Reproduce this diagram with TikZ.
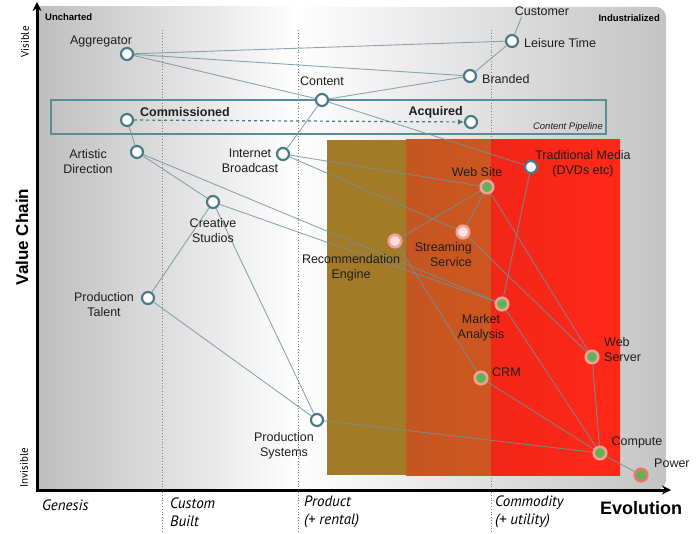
\documentclass[tikz,border=0pt]{standalone}
\usepackage{fontspec}
\setmainfont{Liberation Sans}
\newfontfamily\stagefont{PT Sans}
\usetikzlibrary{arrows.meta}
\usetikzlibrary{positioning}

\definecolor{linkcol}{RGB}{112,146,156}
\definecolor{ringcol}{RGB}{74,122,136}
\definecolor{boxcol}{RGB}{92,138,150}
\definecolor{greenfill}{RGB}{98,178,84}
\definecolor{pinkring}{RGB}{240,160,150}
\definecolor{pinkfill}{RGB}{255,222,222}
\definecolor{powerring}{RGB}{236,116,110}
\definecolor{bandA}{RGB}{162,122,40}
\definecolor{bandB}{RGB}{204,90,34}
\definecolor{bandC}{RGB}{255,40,24}
\definecolor{bgleft}{RGB}{190,190,190}
\definecolor{bgright}{RGB}{196,196,196}
\definecolor{inkcol}{RGB}{30,30,30}

\pgfdeclarelayer{back}
\pgfdeclarelayer{links}
\pgfsetlayers{back,links,main}

\tikzset{
  comp/.style={circle, draw=ringcol, line width=2.2pt, fill=white, minimum size=12pt, inner sep=0pt},
  done/.style={comp, draw=pinkring, fill=greenfill, line width=2.6pt, minimum size=12.5pt},
  soft/.style={comp, draw=pinkring, fill=pinkfill, line width=2.6pt, minimum size=12.5pt},
  txt/.style={font=\fontsize{12.5}{15}\selectfont, text=inkcol, align=center, inner sep=1pt},
  link/.style={draw=linkcol, line width=0.9pt, draw opacity=0.8},
  axis/.style={line width=3pt, -{Stealth[length=9pt,width=9pt]}},
  divider/.style={draw=gray, dotted, line width=0.8pt},
  stage/.style={font=\stagefont\itshape\fontsize{15}{18}\selectfont, align=left, anchor=west, inner sep=1pt},
}

\begin{document}
\begin{tikzpicture}[x=1pt,y=-1pt]
\useasboundingbox (0,0) rectangle (700,534);

% components
\node[comp] (agg) at (127,54) {};
\node[comp] (leis) at (512,41) {};
\node[comp] (brand) at (470,76) {};
\node[comp] (cont) at (322,100) {};
\node[comp] (comm) at (127,120) {};
\node[comp] (acq) at (471,122) {};
\node[comp] (art) at (137,152) {};
\node[comp] (bcast) at (283,154) {};
\node[comp] (trad) at (531,167) {};
\node[done] (web) at (487,187) {};
\node[comp] (studio) at (213,202) {};
\node[soft] (recom) at (395,241) {};
\node[soft] (stream) at (463,232) {};
\node[comp] (talent) at (148,298) {};
\node[done] (market) at (502,304) {};
\node[done] (wserv) at (592,357) {};
\node[done] (crm) at (481,378) {};
\node[comp] (psys) at (317,420) {};
\node[done] (compute) at (600,453) {};
\node[done, draw=powerring] (power) at (641,475) {};

% labels
\node[txt] (cust) at (542,11) {Customer};
\node[txt] (agg-l) at (101,42) {Aggregator};
\node[txt, anchor=west] (leis-l) at (523,43) {Leisure Time};
\node[txt, anchor=west] (brand-l) at (481,79) {Branded};
\node[txt] (cont-l) at (322,81) {Content};
\node[txt, anchor=west, font=\bfseries\fontsize{12.5}{15}\selectfont] (comm-l) at (139,112) {Commissioned};
\node[txt, anchor=east, font=\bfseries\fontsize{12.5}{15}\selectfont] (acq-l) at (464,112) {Acquired};
\node[txt, anchor=east, font=\itshape\fontsize{9.5}{11}\selectfont] (pipe-l) at (604,127) {Content Pipeline};
\node[txt] (art-l) at (88,162) {Artistic\\Direction};
\node[txt] (bcast-l) at (250,161) {Internet\\Broadcast};
\node[txt] (trad-l) at (583,164) {Traditional Media\\(DVDs etc)};
\node[txt] (web-l) at (477,172) {Web Site};
\node[txt] (studio-l) at (213,231) {Creative\\Studios};
\node[txt] (recom-l) at (351,268) {Recommendation\\Engine};
\node[txt, anchor=east, align=right] (stream-l) at (473,255) {Streaming\\Service};
\node[txt] (talent-l) at (104,305) {Production\\Talent};
\node[txt] (market-l) at (481,328) {Market\\Analysis};
\node[txt, anchor=west, align=left] (wserv-l) at (603,350) {Web\\Server};
\node[txt, anchor=west] (crm-l) at (491,372) {CRM};
\node[txt] (psys-l) at (284,446) {Production\\Systems};
\node[txt] (compute-l) at (637,442) {Compute};
\node[txt, anchor=west] (power-l) at (653,463) {Power};

% axis texts
\node[anchor=west, inner sep=1pt, font=\bfseries\fontsize{9.5}{11}\selectfont] (unch) at (44,17) {Uncharted};
\node[anchor=east, inner sep=1pt, font=\bfseries\fontsize{9.5}{11}\selectfont] (indu) at (661,18) {Industrialized};
\node[rotate=90, inner sep=1pt, font=\stagefont\fontsize{11}{13}\selectfont] (vis) at (25,42) {Visible};
\node[rotate=90, inner sep=1pt, font=\stagefont\fontsize{11}{13}\selectfont] (invis) at (24,468) {Invisible};
\node[rotate=90, inner sep=1pt, font=\bfseries\fontsize{17}{20}\selectfont] (vchain) at (22,237) {Value Chain};
\node[stage] (gen) at (41,505) {Genesis};
\node[stage] (cbuilt) at (169,512) {Custom\\Built};
\node[stage] (prod) at (303,512) {Product\\(+ rental)};
\node[stage] (cmdty) at (494,512) {Commodity\\(+ utility)};
\node[inner sep=1pt, font=\bfseries\fontsize{18}{20}\selectfont] (evo) at (641,508) {Evolution};

% backdrop, stages and axes
\begin{pgfonlayer}{back}
  \shade[left color=white, right color=bgright, rounded corners=10pt] (290,7) rectangle (666,490);
  \shade[left color=bgleft, right color=white] (37,7) rectangle (300,490);
  \foreach \sx in {162,298,491}
    \draw[divider] (\sx,30) -- (\sx,532);
  \fill[bandA] (327,140) rectangle (406,475);
  \shade[left color=bandB!96!black, right color=bandB!95!red] (406,140) rectangle (491,475);
  \shade[left color=bandC!95!black, right color=bandC] (491,140) rectangle (620,475);
  \draw[boxcol, line width=1.5pt] (51,100) rectangle (606,134);
  \draw[axis] (37,492) -- (37,2);
  \draw[axis] (35.5,490) -- (671,490);
\end{pgfonlayer}

% dependencies
\begin{pgfonlayer}{links}
  \foreach \a/\b in {agg/leis, agg/brand, agg/cont, cont/brand, brand/leis,
      cont/trad, cont/bcast, comm/art, art/studio, art/market,
      bcast/web, bcast/stream, studio/market, studio/talent, studio/psys,
      talent/psys, psys/compute, trad/market, web/recom, web/stream,
      web/wserv, recom/crm, stream/wserv, market/compute, crm/compute,
      wserv/compute, compute/power}
    \draw[link] (\a) -- (\b);
  \draw[link] (leis) -- ([xshift=8pt]cust.south west);
  \draw[ringcol, line width=1.2pt, dashed, -{Latex[length=6pt,width=6pt]}] (comm) -- (acq);
\end{pgfonlayer}
\end{tikzpicture}
\end{document}
